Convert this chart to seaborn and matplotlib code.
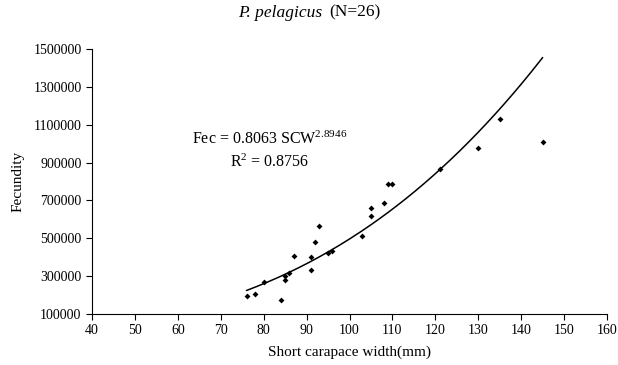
import numpy as np
import pandas as pd
import matplotlib
matplotlib.use("Agg")
import matplotlib.pyplot as plt
import seaborn as sns

# data
scw = [76, 78, 80, 84, 85, 85, 86, 87, 91, 91, 92, 93, 95, 96,
       103, 105, 105, 108, 109, 110, 121, 130, 135, 145]
fec = [193000, 208000, 268000, 174000, 302000, 280000, 314000, 408000,
       400000, 335000, 480000, 567000, 421000, 434000, 514000, 659000,
       620000, 687000, 786000, 786000, 865000, 978000, 1131000, 1010000]
coef_a = 0.8063
coef_b = 2.8946
r2 = 0.8756
x_ticks = list(range(40, 161, 10))
y_ticks = list(range(100000, 1500001, 200000))

sns.set_theme(style="white")
plt.rcParams['font.family'] = ['Liberation Serif', 'DejaVu Serif']
plt.rcParams['mathtext.fontset'] = 'custom'
plt.rcParams['mathtext.rm'] = 'Liberation Serif'
plt.rcParams['mathtext.it'] = 'Liberation Serif:italic'

df = pd.DataFrame({"SCW": scw, "Fec": fec})
xs = np.linspace(min(scw), max(scw), 200)
fit = pd.DataFrame({"SCW": xs, "Fec": coef_a * xs ** coef_b})

fig = plt.figure(figsize=(6.18, 3.65), dpi=100)
ax = fig.add_axes([92 / 618, 1 - 314 / 365, (607 - 92) / 618, (314 - 49) / 365])

sns.lineplot(data=fit, x="SCW", y="Fec", color="black", linewidth=1.1, ax=ax)
sns.scatterplot(data=df, x="SCW", y="Fec", marker="D", s=9, color="black",
                edgecolor="black", linewidth=0, ax=ax, zorder=3)

ax.set_xlim(40, 160)
ax.set_ylim(100000, 1500000)
ax.set_xticks(x_ticks)
ax.set_yticks(y_ticks)
ax.set_xticklabels([str(t) for t in x_ticks], fontsize=10)
ax.set_yticklabels([str(t) for t in y_ticks], fontsize=10)
ax.tick_params(axis="both", direction="out", length=4, width=0.8,
               color="black", labelcolor="black", bottom=True, left=True)
for s in ["top", "right"]:
    ax.spines[s].set_visible(False)
for s in ["left", "bottom"]:
    ax.spines[s].set_color("black")
    ax.spines[s].set_linewidth(0.8)

ax.set_xlabel("Short carapace width(mm)", fontsize=11, color="black", labelpad=6)
ax.set_ylabel("Fecundity", fontsize=11, color="black", labelpad=6)

# title: italic species name + plain sample size
fig.text(0.522, 0.965, "P. pelagicus", ha="right", va="center", fontsize=12.5,
         style="italic", color="black")
fig.text(0.532, 0.965, "(N=26)", ha="left", va="center", fontsize=12.5,
         color="black")

ax.text(81.3, 1025000, "Fec = %.4f SCW$^{%.4f}$" % (coef_a, coef_b), fontsize=11.5,
        ha="center", va="center", color="black")
ax.text(81.3, 903000, "R$^{2}$ = %.4f" % r2, fontsize=11.5, ha="center",
        va="center", color="black")

fig.savefig("out.png", dpi=100)
